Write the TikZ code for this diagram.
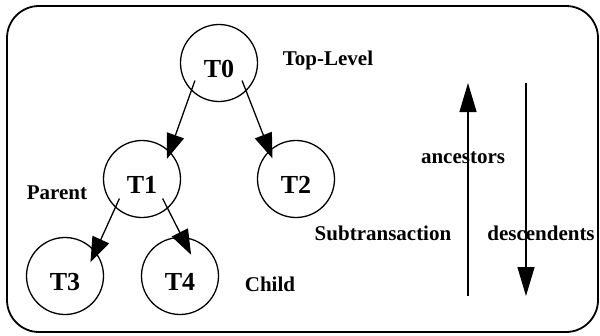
\documentclass[tikz,border=0pt]{standalone}
\usepackage{fontspec}
\setmainfont{Liberation Serif}
\usetikzlibrary{arrows.meta}
\begin{document}
\begin{tikzpicture}[x=1pt,y=-1pt,
  txn/.style={circle, draw, line width=1.3pt, minimum size=77pt, inner sep=0pt,
    text height=29pt, text depth=0pt, font=\fontsize{26}{26}\selectfont\bfseries},
  lbl/.style={anchor=base, inner sep=0pt, font=\fontsize{21}{21}\selectfont\bfseries},
  edge/.style={line width=1.3pt, -{Triangle[length=25pt,width=18pt]}},
  axis/.style={line width=1.3pt, -{Triangle[length=29pt,width=17pt]}}]
\useasboundingbox (0,0) rectangle (600,335);
% frame
\draw[line width=1.8pt, rounded corners=32pt] (7,6) rectangle (598,332);
% transaction tree
\node[txn] (T0) at (219,63) {T0};
\node[txn] (T1) at (142,179) {T1};
\node[txn] (T2) at (296,179) {T2};
\node[txn] (T3) at (65,276) {T3};
\node[txn] (T4) at (180,276) {T4};
% edges start and end inside the circles
\draw[edge, shorten <=-10.7pt, shorten >=-8pt]   (T0.-135)  -- (T1.45);
\draw[edge, shorten <=-11.4pt, shorten >=-8.6pt] (T0.-46.5) -- (T2.133.7);
\draw[edge, shorten <=-10pt,   shorten >=-12pt]  (T1.-133.6) -- (T3.39);
\draw[edge, shorten <=-11.3pt, shorten >=-20pt]  (T1.-49.4) -- (T4.87);
% labels
\node[lbl] (top) at (328,65) {Top-Level};
\node[lbl] (par) at (57,199) {Parent};
\node[lbl] (chi) at (270,291) {Child};
\node[lbl] (anc) at (463,163) {ancestors};
\node[lbl] (sub) at (383,240) {Subtransaction};
\node[lbl] (des) at (541,240) {descendents};
% direction arrows
\coordinate (upA) at (468,296);
\coordinate (upB) at (468,83);
\coordinate (dnA) at (526,83);
\coordinate (dnB) at (526,296);
\draw[axis] (upA) -- (upB);
\draw[axis] (dnA) -- (dnB);
\end{tikzpicture}
\end{document}
